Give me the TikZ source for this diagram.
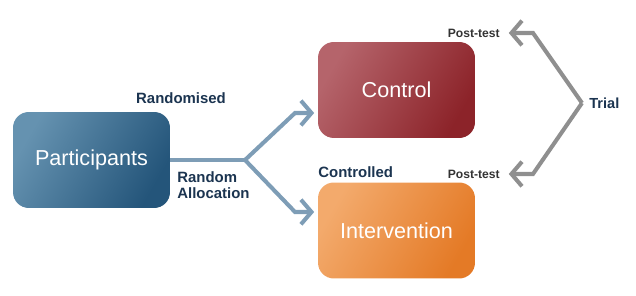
\documentclass[tikz,border=0pt]{standalone}
\usepackage{fontspec}
\setmainfont{Liberation Sans}
\usetikzlibrary{arrows.meta}
\definecolor{partA}{HTML}{6592B0}
\definecolor{partB}{HTML}{24557A}
\definecolor{ctrlA}{HTML}{B5646B}
\definecolor{ctrlB}{HTML}{8C2329}
\definecolor{intA}{HTML}{F3AA6C}
\definecolor{intB}{HTML}{E47A26}
\definecolor{flow}{HTML}{7E9DB6}
\definecolor{trial}{HTML}{8F8F8F}
\definecolor{navy}{HTML}{1B3450}
\tikzset{
  armbox/.style={rounded corners=9pt, minimum width=3.14cm, minimum height=1.92cm,
    text=white, font=\fontsize{12.3}{14}\selectfont},
  tag/.style={text=navy, font=\fontsize{8.5}{9.5}\selectfont\bfseries, inner sep=0pt},
  flowline/.style={flow, line width=2.3pt, -{Straight Barb[length=6pt,width=14pt]}},
  trialline/.style={trial, line width=2.3pt, -{Straight Barb[length=6pt,width=14pt]}}
}
\begin{document}
\begin{tikzpicture}[x=0.02cm,y=-0.02cm]
  \useasboundingbox (0,0) rectangle (636,296);
  \node[armbox, left color=partA, right color=partB, shading angle=60] (part) at (91.5,160) {Participants};
  \node[armbox, left color=ctrlA, right color=ctrlB, shading angle=60] (ctrl) at (396.5,90) {Control};
  \node[armbox, left color=intA, right color=intB, shading angle=60] (interv) at (396.5,230.5) {Intervention};
  % random allocation fork
  \coordinate (split) at (245,160);
  \draw[flow, line width=2.3pt] (part.east) -- (split);
  \draw[flowline, shorten >=2pt] (split) -- (295,113) -- (ctrl.west |- 0,113);
  \draw[flowline, shorten >=2pt] (split) -- (295,212) -- (interv.west |- 0,212);
  \node[tag] (rand) at (181,98) {Randomised};
  \node[tag, anchor=north west, align=left] (alloc) at (177,171) {Random\\Allocation};
  \node[tag, anchor=west] (contr) at (318,172) {Controlled};
  % trial bracket
  \node[anchor=east, inner sep=0pt, text=black!80, font=\fontsize{6.9}{8}\selectfont\bfseries] (posttop) at (500,33) {Post-test};
  \node[anchor=east, inner sep=0pt, text=black!80, font=\fontsize{6.9}{8}\selectfont\bfseries] (postbot) at (500,174) {Post-test};
  \coordinate (tip) at (582,103);
  \draw[trialline, shorten >=5pt] (tip) -- (533,33) -- (posttop.east);
  \draw[trialline, shorten >=5pt] (tip) -- (533,174) -- (postbot.east);
  \node[tag, anchor=west, font=\fontsize{8.3}{9}\selectfont\bfseries] (trial) at (589,103) {Trial};
\end{tikzpicture}
\end{document}
